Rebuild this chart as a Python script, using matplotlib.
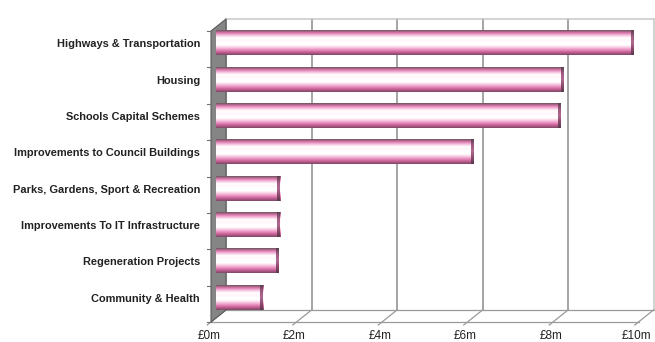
import matplotlib.pyplot as plt
import numpy as np
from matplotlib.transforms import offset_copy
from matplotlib.colors import to_rgb

# data (£m), top to bottom as shown
categories = ['Highways & Transportation', 'Housing', 'Schools Capital Schemes',
              'Improvements to Council Buildings', 'Parks, Gardens, Sport & Recreation',
              'Improvements To IT Infrastructure', 'Regeneration Projects',
              'Community & Health']
spend = [9.72, 8.08, 8.01, 5.98, 1.45, 1.45, 1.42, 1.05]
xticks = [0, 2, 4, 6, 8, 10]
xticklabels = ['£0m', '£2m', '£4m', '£6m', '£8m', '£10m']

plt.rcParams['font.family'] = ['Liberation Sans', 'DejaVu Sans']

fig = plt.figure(figsize=(6.55, 3.42), dpi=100)
ax = fig.add_axes([218.5 / 655, (342 - 316) / 342, 427.5 / 655, 291 / 342])
ax.set_xlim(0, 10)
ax.set_ylim(len(categories) - 0.5, -0.5)
for s in ax.spines.values():
    s.set_visible(False)
ax.set_xticks([])

# depth offsets (pixels) for the fake 3D look
back = offset_copy(ax.transData, fig=fig, x=7.5, y=6, units='dots')
front = offset_copy(ax.transData, fig=fig, x=-7.5, y=-6, units='dots')
top, bot = -0.5, len(categories) - 0.5
inv = fig.transFigure.inverted()


def fig_line(p0, p1, **kw):
    a, b = inv.transform([p0, p1])
    ln = plt.Line2D([a[0], b[0]], [a[1], b[1]], transform=fig.transFigure, clip_on=False, **kw)
    ax.add_line(ln)


# back wall gridlines
for t in xticks:
    c = '#c8c8c8' if t == 10 else '#8c8c8c'
    ax.plot([t, t], [top, bot], color=c, lw=1.1, transform=back, clip_on=False, zorder=1)
ax.plot([0, 10], [top, top], color='#c8c8c8', lw=1.1, transform=back, clip_on=False, zorder=1)
ax.plot([0, 10], [bot, bot], color='#9a9a9a', lw=0.9, transform=back, clip_on=False, zorder=1)

# floor
ax.plot([0, 10], [bot, bot], color='#9a9a9a', lw=0.9, transform=front, clip_on=False, zorder=1)
disp_b = back.transform([(t, bot) for t in xticks])
disp_f = front.transform([(t, bot) for t in xticks])
for pb, pf in zip(disp_b, disp_f):
    fig_line(pb, pf + (pf - pb) * 0.25, color='#9a9a9a', lw=0.9, zorder=1)

# left side wall
pts = np.vstack([back.transform([(0, top), (0, bot)]),
                 front.transform([(0, bot), (0, top)])])
wall = plt.Polygon(inv.transform(pts), closed=True, facecolor='#858585',
                   edgecolor='#5a5a5a', lw=0.8, zorder=2, transform=fig.transFigure,
                   clip_on=False)
ax.add_patch(wall)
# small category ticks on the wall
for k in np.arange(top, bot + 0.1, 1.0):
    p = front.transform([(0, k)])[0]
    fig_line(p, p - [4, 0], color='#707070', lw=0.8, zorder=2)

# cylinder-style gradient bars
stops = ['#6e5562', '#d874aa', '#f6bcdc', '#ffffff', '#fff6fb', '#ffffff',
         '#ffffff', '#f8c8e2', '#e88cbc', '#c25c92', '#7c4a66']
grad = np.array([to_rgb(c) for c in stops])
rows = np.linspace(0, 1, 60)
col = np.stack([np.interp(rows, np.linspace(0, 1, len(stops)), grad[:, k]) for k in range(3)], axis=1)
img = col[:, None, :]
cap_stops = ['#5a4050', '#a05a80', '#b06890', '#8a4a6c', '#5a3a4c']
capg = np.array([to_rgb(c) for c in cap_stops])
capcol = np.stack([np.interp(rows, np.linspace(0, 1, len(cap_stops)), capg[:, k]) for k in range(3)], axis=1)
h = 0.66
for i, v in enumerate(spend):
    ax.imshow(img, extent=(-0.05, v, i + h / 2, i - h / 2), aspect='auto', origin='upper',
              interpolation='bilinear', zorder=3, clip_on=False)
    ax.imshow(capcol[:, None, :], extent=(v - 0.07, v, i + h / 2, i - h / 2), aspect='auto',
              origin='upper', interpolation='bilinear', zorder=4, clip_on=False)
ax.set_xlim(0, 10)
ax.set_ylim(len(categories) - 0.5, -0.5)

# category labels
ax.set_yticks(range(len(categories)))
ax.set_yticklabels(categories, fontsize=7.9, fontweight='bold', color='#222222')
ax.tick_params(axis='y', length=0, pad=13.3)

# x labels along the front edge
lab_tr = offset_copy(ax.transData, fig=fig, x=-9.5, y=-14, units='dots')
for t, s in zip(xticks, xticklabels):
    ax.text(t, bot, s, transform=lab_tr, ha='center', va='top', fontsize=8.5,
            color='#222222', clip_on=False)

fig.savefig('out.png', dpi=100)
